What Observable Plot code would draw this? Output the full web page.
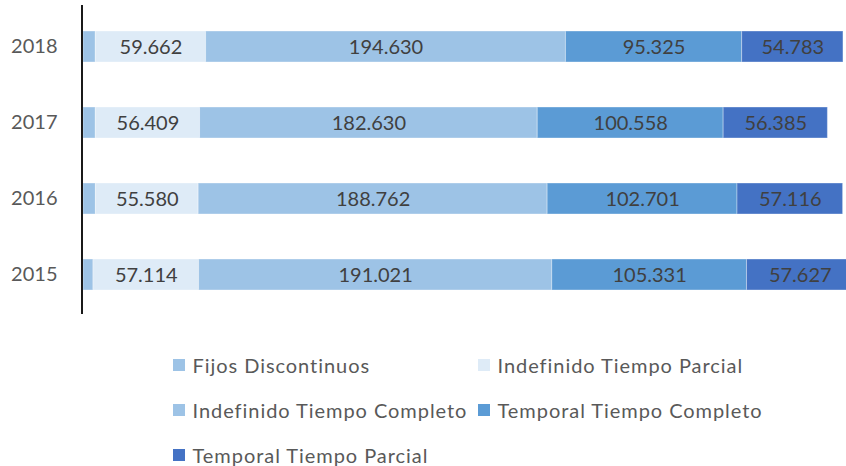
<!DOCTYPE html>
<html>
<head>
<meta charset="utf-8">
<script src="https://cdn.jsdelivr.net/npm/d3@7"></script>
<script src="https://cdn.jsdelivr.net/npm/@observablehq/plot@0.6"></script>
<style>
  html, body { margin: 0; padding: 0; background: #fff; }
  #wrap { position: relative; width: 846px; height: 466px; overflow: hidden; font-family: Lato, "Open Sans", sans-serif; }
  .leg { position: absolute; display: flex; align-items: center; font-size: 20px; letter-spacing: 0.95px; color: #595959; white-space: nowrap; }
  .sw { width: 11.5px; height: 11.5px; margin-right: 8px; flex: none; }
</style>
</head>
<body>
<div id="wrap"></div>
<script>
const years = ["2018", "2017", "2016", "2015"];
const series = ["Fijos Discontinuos", "Indefinido Tiempo Parcial", "Indefinido Tiempo Completo", "Temporal Tiempo Completo", "Temporal Tiempo Parcial"];
const fijosDiscontinuos = [6650, 6650, 6700, 5400];
const indefinidoParcial = [59662, 56409, 55580, 57114];
const indefinidoCompleto = [194630, 182630, 188762, 191021];
const temporalCompleto = [95325, 100558, 102701, 105331];
const temporalParcial = [54783, 56385, 57116, 57627];
const colors = ["#9DC3E6", "#DEEBF7", "#9DC3E6", "#5B9BD5", "#4472C4"];
const showLabel = [false, true, true, true, true];

const valuesBySeries = [fijosDiscontinuos, indefinidoParcial, indefinidoCompleto, temporalCompleto, temporalParcial];
const data = [];
years.forEach((y, i) => {
  series.forEach((s, j) => {
    data.push({year: y, series: s, value: valuesBySeries[j][i], label: showLabel[j]});
  });
});

const fmt = v => d3.format(",")(v).replace(/,/g, ".");

const chart = Plot.plot({
  width: 846,
  height: 330,
  marginLeft: 83,
  marginRight: 0,
  marginTop: 8,
  marginBottom: 16,
  style: {fontFamily: "Lato, 'Open Sans', sans-serif", color: "#595959", background: "transparent"},
  x: {domain: [0, 412700], axis: null},
  y: {domain: years, paddingInner: 0.59, paddingOuter: 0.295, label: null},
  color: {domain: series, range: colors},
  marks: [
    Plot.barX(data, Plot.stackX({x: "value", y: "year", fill: "series", z: "series", order: series, stroke: "white", strokeOpacity: 0.35, strokeWidth: 1})),
    Plot.text(data, Plot.stackX({x: "value", y: "year", z: "series", order: series, text: d => d.label ? fmt(d.value) : "", fill: "#404040", fontSize: 20, dy: 1})),
    Plot.axisY({tickSize: 0, tickPadding: 26, fontSize: 20, label: null}),
    Plot.ruleX([0], {stroke: "black", strokeWidth: 1.8, dx: -1.5, insetTop: -3})
  ]
});

const wrap = document.getElementById("wrap");
wrap.appendChild(chart);

// legend
const legendPos = [
  {x: 173, y: 365}, {x: 478, y: 365},
  {x: 173, y: 410}, {x: 478, y: 410},
  {x: 173, y: 455}
];
series.forEach((s, i) => {
  const d = document.createElement("div");
  d.className = "leg";
  d.style.left = legendPos[i].x + "px";
  d.style.top = (legendPos[i].y - 13) + "px";
  d.style.height = "26px";
  const sw = document.createElement("span");
  sw.className = "sw";
  sw.style.background = colors[i];
  const t = document.createElement("span");
  t.textContent = s;
  d.appendChild(sw);
  d.appendChild(t);
  wrap.appendChild(d);
});
</script>
</body>
</html>
